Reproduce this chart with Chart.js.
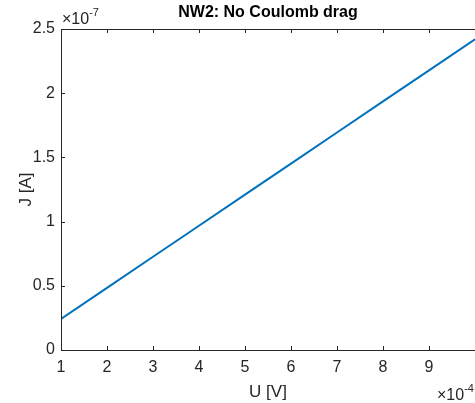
<!DOCTYPE html>
<html>
<head>
<meta charset="utf-8">
<script src="https://cdn.jsdelivr.net/npm/chart.js@4"></script>
<style>
  html, body { margin: 0; padding: 0; background: #fff; }
  #wrap { width: 475px; height: 403px; }
</style>
</head>
<body>
<div id="wrap"><canvas id="lineChart" width="475" height="403"></canvas></div>
<script>
// U in units of 1e-4 V, J in units of 1e-7 A
var uValues = [1, 2, 3, 4, 5, 6, 7, 8, 9, 10];
var jValues = [0.242, 0.484, 0.726, 0.968, 1.21, 1.452, 1.694, 1.936, 2.178, 2.42];
var xTicks = [1, 2, 3, 4, 5, 6, 7, 8, 9];
var yTicks = [0, 0.5, 1, 1.5, 2, 2.5];

var axisColor = '#262626';
var fontFamily = '"Liberation Sans", Arial, sans-serif';

function drawExponent(ctx, text, x, y) {
    ctx.font = '16px ' + fontFamily;
    ctx.fillText('\u00d710', x, y);
    var w = ctx.measureText('\u00d710').width;
    ctx.font = '11px ' + fontFamily;
    ctx.fillText(text, x + w, y - 8);
}

var matlabAxes = {
    id: 'matlabAxes',
    afterDraw: function (chart) {
        var ctx = chart.ctx;
        var a = chart.chartArea;
        var xs = chart.scales.x, ys = chart.scales.y;
        ctx.save();
        ctx.strokeStyle = axisColor;
        ctx.lineWidth = 1;
        ctx.beginPath();
        ctx.moveTo(a.left + 0.5, a.top + 0.5);
        ctx.lineTo(a.right, a.top + 0.5);
        ctx.moveTo(a.left + 0.5, a.top);
        ctx.lineTo(a.left + 0.5, a.bottom + 0.5);
        ctx.lineTo(a.right, a.bottom + 0.5);
        xTicks.forEach(function (v) {
            var px = Math.round(xs.getPixelForValue(v)) + 0.5;
            ctx.moveTo(px, a.bottom); ctx.lineTo(px, a.bottom - 4);
            ctx.moveTo(px, a.top); ctx.lineTo(px, a.top + 4);
        });
        yTicks.forEach(function (v) {
            var py = Math.round(ys.getPixelForValue(v)) + 0.5;
            ctx.moveTo(a.left, py); ctx.lineTo(a.left + 4, py);
        });
        ctx.stroke();

        // title
        ctx.fillStyle = '#000';
        ctx.font = 'bold 16px ' + fontFamily;
        ctx.textAlign = 'center';
        ctx.textBaseline = 'middle';
        ctx.fillText('NW2: No Coulomb drag', (a.left + a.right) / 2, 13);

        // exponent labels
        ctx.fillStyle = axisColor;
        ctx.textAlign = 'left';
        ctx.textBaseline = 'alphabetic';
        drawExponent(ctx, '-7', 62, 24);
        drawExponent(ctx, '-4', 437, 400);
        ctx.restore();
    }
};

var ctx = document.getElementById('lineChart');
var lineChart = new Chart(ctx, {
    type: 'line',
    data: {
        labels: uValues,
        datasets: [
            {
                label: 'J',
                data: uValues.map(function (u, i) { return { x: u, y: jValues[i] }; }),
                fill: false,
                borderColor: '#0072BD',
                borderWidth: 2,
                pointRadius: 0,
                tension: 0
            }
        ]
    },
    options: {
        responsive: false,
        animation: false,
        layout: { padding: { top: 29, right: 0, left: 0, bottom: 0 } },
        plugins: {
            legend: { display: false },
            tooltip: { enabled: false }
        },
        scales: {
            x: {
                type: 'linear',
                min: 1,
                max: 10,
                afterFit: function (s) { s.height = 53; },
                afterBuildTicks: function (s) { s.ticks = xTicks.map(function (v) { return { value: v }; }); },
                grid: { display: false, drawTicks: false },
                border: { display: false },
                ticks: { color: axisColor, font: { size: 16, family: fontFamily }, padding: 8, maxRotation: 0,
                         callback: function (v) { return String(v); } },
                title: { display: true, text: 'U [V]', color: axisColor, font: { size: 17, family: fontFamily }, padding: { top: 2, bottom: 0 } }
            },
            y: {
                type: 'linear',
                min: 0,
                max: 2.5,
                afterFit: function (s) { s.width = 61; },
                afterBuildTicks: function (s) { s.ticks = yTicks.map(function (v) { return { value: v }; }); },
                grid: { display: false, drawTicks: false },
                border: { display: false },
                ticks: { color: axisColor, font: { size: 16, family: fontFamily }, padding: 6,
                         callback: function (v) { return String(v); } },
                title: { display: true, text: 'J [A]', color: axisColor, font: { size: 17, family: fontFamily }, padding: { top: 16, bottom: 0 } }
            }
        }
    },
    plugins: [matlabAxes]
});
</script>
</body>
</html>
